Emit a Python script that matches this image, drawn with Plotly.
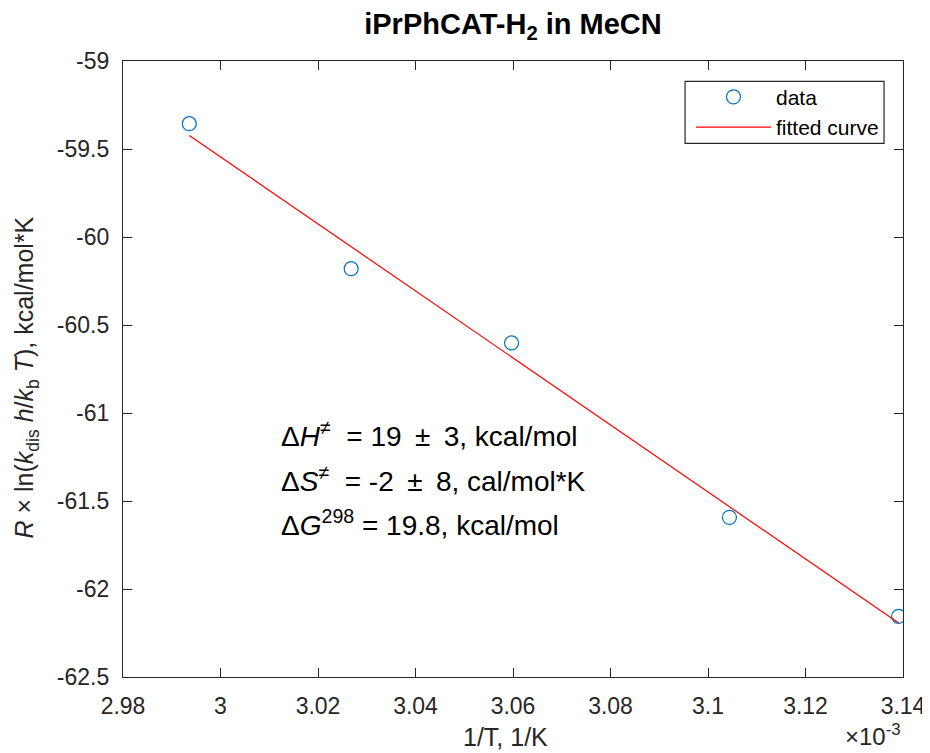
import plotly.graph_objects as go

# data
inv_T = [2.9936e-3, 3.0268e-3, 3.0597e-3, 3.1044e-3, 3.1391e-3]
y_val = [-59.356, -60.180, -60.602, -61.593, -62.155]
fit_x = [2.9936e-3, 3.1391e-3]
fit_y = [-59.423, -62.193]

x_ticks = [2.98e-3, 3.00e-3, 3.02e-3, 3.04e-3, 3.06e-3, 3.08e-3, 3.10e-3, 3.12e-3, 3.14e-3]
x_tick_labels = ["2.98", "3", "3.02", "3.04", "3.06", "3.08", "3.1", "3.12", "3.14"]
y_ticks = [-62.5, -62, -61.5, -61, -60.5, -60, -59.5, -59]
y_tick_labels = ["-62.5", "-62", "-61.5", "-61", "-60.5", "-60", "-59.5", "-59"]

x_title = "1/T, 1/K"
y_title = "<i>R</i> × ln(<i>k</i><sub>dis</sub> <i>h</i>/<i>k</i><sub>b</sub> <i>T</i>), kcal/mol*K"

ann_lines = [
    "Δ<i>H</i><sup>≠</sup>  = 19 \u2009±\u2009 3, kcal/mol",
    "Δ<i>S</i><sup>≠</sup>  = -2 \u2009±\u2009 8, cal/mol*K",
    "Δ<i>G</i><sup>298</sup> = 19.8, kcal/mol",
]
ann_y = [-61.12, -61.375, -61.625]

FONT = "Liberation Sans, Arial, sans-serif"
AX = "#262626"

fig = go.Figure()
fig.add_trace(go.Scatter(
    x=inv_T, y=y_val, mode="markers", name="data",
    marker=dict(symbol="circle-open", size=14, color="#0072BD", line=dict(width=1.2, color="#0072BD")),
))
fig.add_trace(go.Scatter(
    x=fit_x, y=fit_y, mode="lines", name="fitted curve",
    line=dict(color="#FF0000", width=1.2),
))

for txt, yy in zip(ann_lines, ann_y):
    fig.add_annotation(x=3.0119e-3, y=yy, xref="x", yref="y", text=txt, showarrow=False,
                       xanchor="left", yanchor="middle", font=dict(family=FONT, size=28, color="black"))

fig.add_annotation(x=1.0, y=-0.121, xref="paper", yref="paper", text="×10<sup>-3</sup>",
                   showarrow=False, xanchor="right", yanchor="bottom", font=dict(family=FONT, size=24, color=AX))

# axis titles
fig.add_annotation(x=0.49, y=-0.097, xref="paper", yref="paper", text=x_title, showarrow=False,
                   xanchor="center", yanchor="middle", font=dict(family=FONT, size=25, color=AX))
fig.add_annotation(x=-0.1245, y=0.486, xref="paper", yref="paper", text=y_title, showarrow=False,
                   textangle=-90, xanchor="center", yanchor="middle", font=dict(family=FONT, size=25, color=AX))

# legend frame
fig.add_shape(type="rect", xref="paper", yref="paper", x0=0.7206, x1=0.9757, y0=0.8664, y1=0.967,
              line=dict(color=AX, width=1.2), fillcolor="white", layer="below")

# page body adds an 8px offset, so the figure is 8px smaller than the window
fig.update_layout(
    width=922, height=745,
    margin=dict(l=115, r=27, t=53, b=76),
    paper_bgcolor="white", plot_bgcolor="white",
    font=dict(family=FONT, size=23, color=AX),
    title=dict(text="<b>iPrPhCAT-H<sub>2</sub> in MeCN</b>", x=505 / 922, xanchor="center",
               y=1 - 16 / 745, yanchor="middle", yref="container",
               font=dict(family=FONT, size=29, color="black")),
    showlegend=True,
    legend=dict(x=0.9756, y=0.9745, xanchor="right", yanchor="top", borderwidth=0,
                bgcolor="rgba(0,0,0,0)", font=dict(family=FONT, size=21, color="black"), itemwidth=75,
                tracegroupgap=0),
)
fig.update_xaxes(
    range=[2.98e-3, 3.14e-3], tickvals=x_ticks, ticktext=x_tick_labels, automargin=False,
    showline=True, linecolor=AX, linewidth=1.3, mirror="ticks", ticks="inside", ticklen=9,
    tickcolor=AX, tickwidth=1.3, showgrid=False, zeroline=False, ticklabelstandoff=8,
)
fig.update_yaxes(
    range=[-62.5, -59], tickvals=y_ticks, ticktext=y_tick_labels, automargin=False,
    showline=True, linecolor=AX, linewidth=1.3, mirror="ticks", ticks="inside", ticklen=9,
    tickcolor=AX, tickwidth=1.3, showgrid=False, zeroline=False, ticklabelstandoff=8,
)

fig.write_html("out.html")
